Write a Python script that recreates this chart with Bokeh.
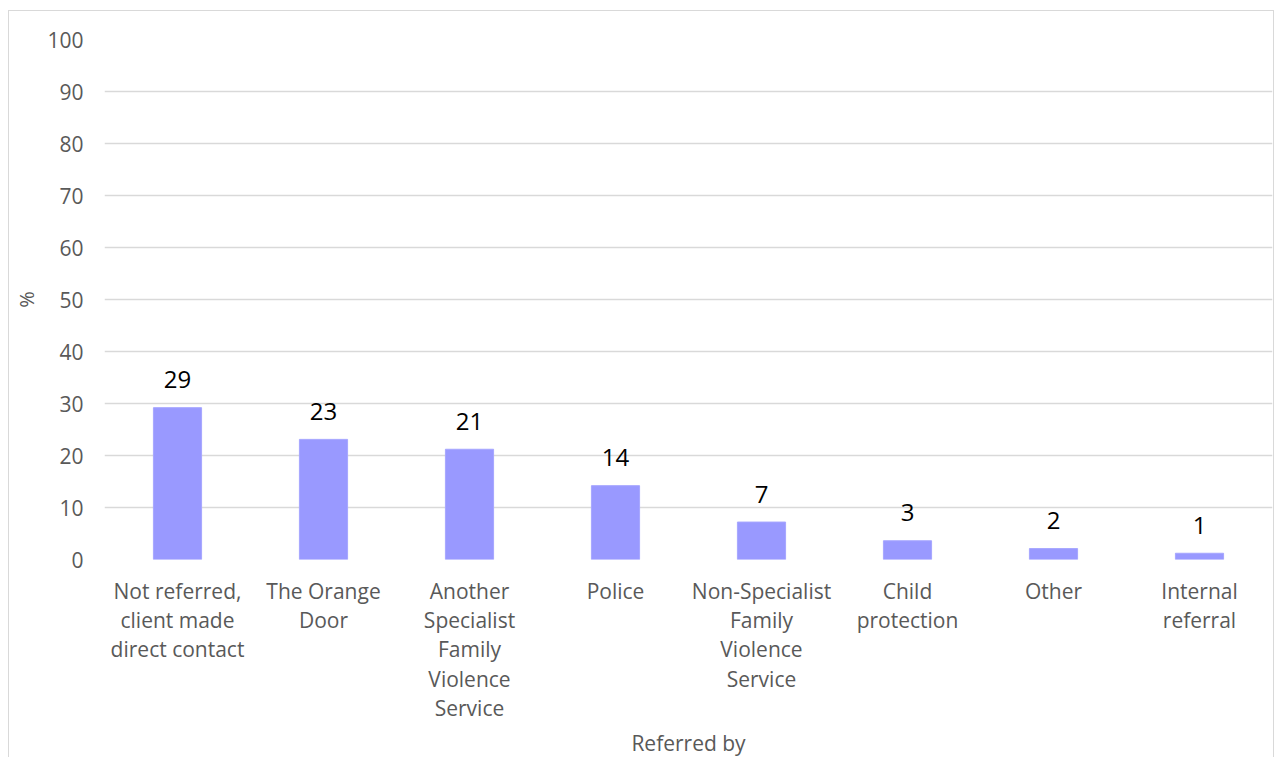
from bokeh.plotting import figure
from bokeh.layouts import column
from bokeh.models import ColumnDataSource, Range1d, FixedTicker
from bokeh.core.properties import value
from bokeh.embed import file_html
from bokeh.resources import INLINE

categories = [
    "Not referred, client made direct contact",
    "The Orange Door",
    "Another Specialist Family Violence Service",
    "Police",
    "Non-Specialist Family Violence Service",
    "Child protection",
    "Other",
    "Internal referral",
]
tick_labels = [
    "Not referred,\nclient made\ndirect contact",
    "The Orange\nDoor",
    "Another\nSpecialist\nFamily\nViolence\nService",
    "Police",
    "Non-Specialist\nFamily\nViolence\nService",
    "Child\nprotection",
    "Other",
    "Internal\nreferral",
]
percent = [29.2, 23.1, 21.2, 14.2, 7.2, 3.6, 2.1, 1.2]
data_labels = ["29", "23", "21", "14", "7", "3", "2", "1"]
y_ticks = [0, 10, 20, 30, 40, 50, 60, 70, 80, 90, 100]
x_title = "Referred by"
y_title = "%"

FONT = "Open Sans"
GRAY = "#595959"
GRID = "#d9d9d9"
W = 1264
TOP_H = 562
BOT_H = 184

source = ColumnDataSource(dict(cat=categories, pct=percent, lab=data_labels))

p = figure(
    x_range=categories,
    y_range=Range1d(0, 100),
    width=W,
    height=TOP_H,
    output_backend="svg",
    toolbar_location=None,
    min_border_left=95,
    min_border_right=1,
    min_border_top=28,
    min_border_bottom=TOP_H - 548,
)
p.outline_line_color = None

p.vbar(x="cat", top="pct", width=0.33, source=source,
       fill_color="#9999ff", line_color="#a6a6ff", line_width=1)

p.text(x="cat", y="pct", text="lab", source=source,
       text_align="center", text_baseline="alphabetic", y_offset=-28,
       text_font=value(FONT), text_font_size="24px", text_color="#000000")

p.yaxis.ticker = FixedTicker(ticks=y_ticks)
p.yaxis.axis_line_color = None
p.yaxis.major_tick_line_color = None
p.yaxis.minor_tick_line_color = None
p.yaxis.major_label_text_font = FONT
p.yaxis.major_label_text_font_size = "21px"
p.yaxis.major_label_text_color = GRAY
p.yaxis.major_label_standoff = 15
p.yaxis.axis_label = y_title
p.yaxis.axis_label_text_font = FONT
p.yaxis.axis_label_text_font_size = "20px"
p.yaxis.axis_label_text_font_style = "normal"
p.yaxis.axis_label_text_color = GRAY
p.yaxis.axis_label_standoff = 4

p.xaxis.visible = False
p.xgrid.grid_line_color = None
p.ygrid.grid_line_color = GRID
p.ygrid.grid_line_width = 1.3

# lower panel: category labels and x-axis title, sharing the x range
lab_src = ColumnDataSource(dict(cat=categories, tick=tick_labels,
                                ypos=[-3] * len(categories)))
q = figure(
    x_range=p.x_range,
    y_range=Range1d(-BOT_H, 0),
    width=W,
    height=BOT_H,
    output_backend="svg",
    toolbar_location=None,
    min_border_left=95,
    min_border_right=1,
    min_border_top=0,
    min_border_bottom=0,
)
q.outline_line_color = None
q.xaxis.visible = False
q.yaxis.visible = False
q.xgrid.grid_line_color = None
q.ygrid.grid_line_color = None

q.text(x="cat", y="ypos", text="tick", source=lab_src,
       text_align="center", text_baseline="top",
       text_font=value(FONT), text_font_size="21px", text_color=GRAY,
       text_line_height=1.05)

title_src = ColumnDataSource(dict(x=[4.0], y=[-169], t=[x_title]))
q.text(x="x", y="y", text="t", source=title_src,
       text_align="center", text_baseline="middle",
       text_font=value(FONT), text_font_size="21px", text_color=GRAY)

layout = column(p, q, spacing=0)
layout.styles = {
    "margin-left": "8px",
    "margin-top": "10px",
    "border-left": "1px solid #d9d9d9",
    "border-top": "1px solid #d9d9d9",
    "border-right": "1px solid #d9d9d9",
}

open("out.html", "w").write(file_html(layout, INLINE))
